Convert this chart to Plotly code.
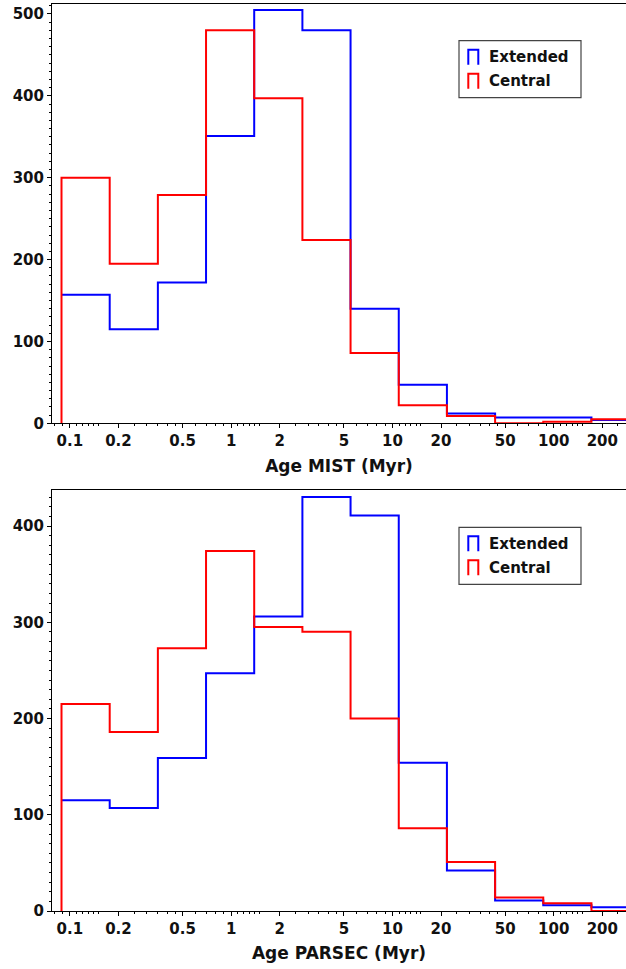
import plotly.graph_objects as go
import numpy as np

# ---- data ----
edges_myr = [0.0887, 0.1765, 0.3511, 0.6984, 1.389, 2.764, 5.498, 10.94, 21.76, 43.29, 86.10, 171.3, 340.8]
mist_extended = [157, 115, 172, 351, 505, 480, 140, 47, 12, 7, 7, 4]
mist_central = [300, 195, 279, 480, 397, 224, 86, 22, 9, 0, 2, 5]
parsec_extended = [115, 107, 159, 247, 306, 430, 411, 154, 42, 11, 6, 4]
parsec_central = [215, 186, 273, 374, 295, 290, 200, 86, 51, 14, 8, 0]
series_names = ["Extended", "Central"]
series_colors = ["#0000ff", "#ff0000"]
major_ticks = [0.1, 0.2, 0.5, 1, 2, 5, 10, 20, 50, 100, 200]
major_labels = ["0.1", "0.2", "0.5", "1", "2", "5", "10", "20", "50", "100", "200"]
minor_mults = [1.1, 1.2, 1.3, 1.4, 1.5, 2.5, 3, 3.5, 4, 4.5, 6, 7, 8, 9]
decades = [0.01, 0.1, 1, 10, 100]
titles = ["Age MIST (Myr)", "Age PARSEC (Myr)"]

W, H = 626, 969
ML, MR, MT, MB = 52, 0, 4, 58
PW, PH = W - ML - MR, H - MT - MB


def px2x(x):
    return (x - ML) / PW


def px2y(y):
    return (H - MB - y) / PH


def step_xy(edges, counts, left_drop):
    if left_drop:
        xs = [edges[0]] + list(edges) + [edges[-1]]
        ys = [0] + list(counts) + [counts[-1], 0]
    else:
        xs = list(edges) + [edges[-1]]
        ys = list(counts) + [counts[-1], 0]
    return xs, ys


minor_vals = [round(d * m, 6) for d in decades for m in minor_mults] + [0.08, 0.09]

fig = go.Figure()
panels = [(mist_extended, mist_central), (parsec_extended, parsec_central)]
for i, (ext, cen) in enumerate(panels):
    xa = "x" if i == 0 else "x2"
    ya = "y" if i == 0 else "y2"
    for j, (name, col, counts) in enumerate(zip(series_names, series_colors, [ext, cen])):
        # the left edge of the first (blue) series is hidden under the red one
        xs, ys = step_xy(edges_myr, counts, left_drop=(j == 1))
        fig.add_trace(go.Scatter(x=xs, y=ys, mode="lines", line=dict(color=col, width=2, shape="hv"),
                                 name=name, showlegend=False, xaxis=xa, yaxis=ya))

font = dict(family="DejaVu Sans", size=15, color="#111111", weight="bold")
tfont = dict(family="DejaVu Sans", size=17, color="#111111", weight="bold")
xcommon = dict(type="log", range=[-1.111, 2.448], showline=True, linecolor="#000000", linewidth=1,
               mirror=True, ticks="outside", ticklen=4, tickcolor="#000000", tickwidth=1,
               tickmode="array", tickvals=major_ticks, ticktext=major_labels, tickfont=font,
               showgrid=False, zeroline=False,
               minor=dict(tickmode="array", tickvals=minor_vals, ticks="outside", ticklen=2,
                          tickcolor="#000000", showgrid=False),
               title=dict(font=tfont, standoff=10))
ycommon = dict(showline=True, linecolor="#000000", linewidth=1, ticks="outside", ticklen=4,
               tickcolor="#000000", tickfont=font, showgrid=False, zeroline=False, dtick=100,
               minor=dict(dtick=10, ticks="outside", ticklen=2, tickcolor="#000000", showgrid=False))

fig.update_layout(
    width=W, height=H, margin=dict(l=ML, r=MR, t=MT, b=MB),
    plot_bgcolor="white", paper_bgcolor="white", showlegend=False,
    xaxis=dict(**xcommon, anchor="y"),
    yaxis=dict(**ycommon, domain=[px2y(423.3), 1.0], range=[0, 512.2], anchor="x"),
    xaxis2=dict(**xcommon, anchor="y2"),
    yaxis2=dict(**ycommon, domain=[0.0, px2y(490)], range=[0, 437.4], anchor="x2"),
)
fig.layout.xaxis.title.text = titles[0]
fig.layout.xaxis2.title.text = titles[1]

# custom legends (histogram-step style symbols)
shapes = []
annotations = []
for top in [40.7, 527.3]:
    shapes.append(dict(type="rect", xref="paper", yref="paper",
                       x0=px2x(459), x1=px2x(581), y0=px2y(top), y1=px2y(top + 57),
                       line=dict(color="#444444", width=1.2), fillcolor="white", layer="above"))
    for k, (name, col) in enumerate(zip(series_names, series_colors)):
        y0 = top + 16.5 + 24 * k
        x_l, x_r = 468.3, 478.3
        ytop, ybot = y0 - 7.5, y0 + 7.5
        path = "M {} {} L {} {} L {} {} L {} {}".format(
            px2x(x_l), px2y(ybot), px2x(x_l), px2y(ytop), px2x(x_r), px2y(ytop), px2x(x_r), px2y(ybot))
        shapes.append(dict(type="path", xref="paper", yref="paper", path=path,
                           line=dict(color=col, width=2), layer="above"))
        annotations.append(dict(xref="paper", yref="paper", x=px2x(487), y=px2y(y0),
                                xanchor="left", yanchor="middle", text=name, showarrow=False,
                                font=font))

fig.update_layout(shapes=shapes, annotations=annotations)
fig.write_html("out.html")
